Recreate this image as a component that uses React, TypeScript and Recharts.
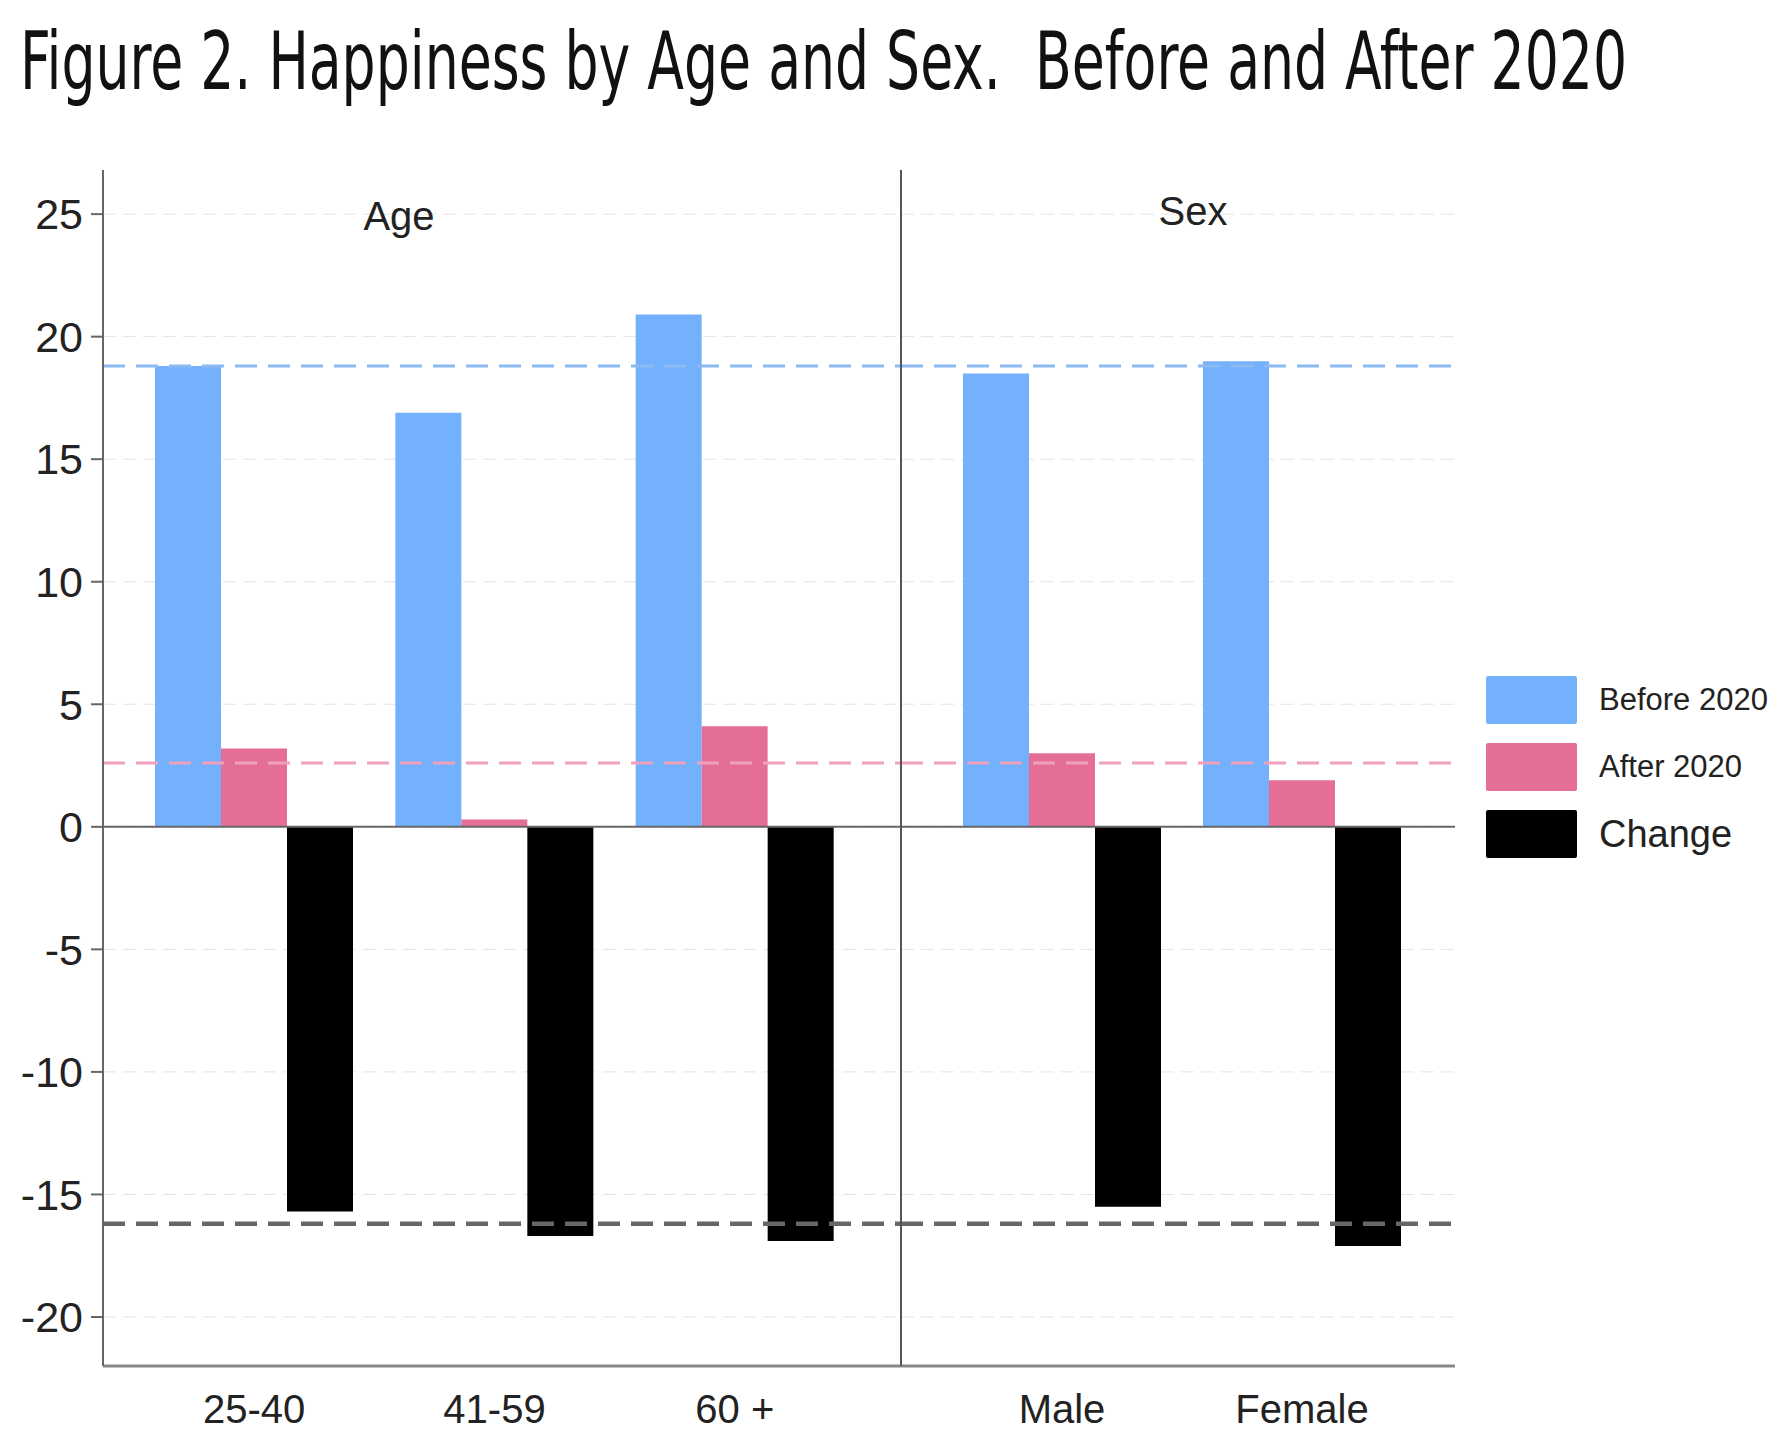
import React from "react";
import {
  BarChart,
  Bar,
  XAxis,
  YAxis,
  CartesianGrid,
  ReferenceLine,
} from "recharts";

// values
const ageGroups = ["25-40", "41-59", "60 +"];
const sexGroups = ["Male", "Female"];
const beforeAge = [18.8, 16.9, 20.9];
const afterAge = [3.2, 0.3, 4.1];
const changeAge = [-15.7, -16.7, -16.9];
const beforeSex = [18.5, 19.0];
const afterSex = [3.0, 1.9];
const changeSex = [-15.5, -17.1];
const meanBefore = 18.8;
const meanAfter = 2.6;
const meanChange = -16.2;
const yTicks = [-20, -15, -10, -5, 0, 5, 10, 15, 20, 25];
const yDomain = [-22, 26.8];

const BLUE = "#74b1fd";
const PINK = "#e56e98";
const BLACK = "#000000";
const FONT = "'Liberation Sans', Arial, sans-serif";

const series = [
  { key: "before", name: "Before 2020", color: BLUE, fontSize: 31 },
  { key: "after", name: "After 2020", color: PINK, fontSize: 31 },
  { key: "change", name: "Change", color: BLACK, fontSize: 38 },
];

const build = (cats: string[], b: number[], a: number[], c: number[]) =>
  cats.map((cat, i) => ({ cat, before: b[i], after: a[i], change: c[i] }));

const ageData = build(ageGroups, beforeAge, afterAge, changeAge);
const sexData = build(sexGroups, beforeSex, afterSex, changeSex);

const CHART_H = 1454;
const MARGIN = { top: 170, right: 0, bottom: 28, left: 0 };

const xTick = { fontSize: 40, fill: "#222", fontFamily: FONT };
const yTick = { fontSize: 43, fill: "#222", fontFamily: FONT };

const grid = () => (
  <CartesianGrid
    vertical={false}
    horizontalValues={yTicks}
    stroke="#e4e4e4"
    strokeDasharray="13 7"
  />
);

const refLines = () => [
  <ReferenceLine key="zero" y={0} stroke="#666" strokeWidth={2} />,
  <ReferenceLine key="mb" y={meanBefore} stroke="#8cbaf3" strokeWidth={3} strokeDasharray="22 11" />,
  <ReferenceLine key="ma" y={meanAfter} stroke="#efa0bd" strokeWidth={3} strokeDasharray="22 11" />,
  <ReferenceLine key="mc" y={meanChange} stroke="#666" strokeWidth={4.5} strokeDasharray="22 11" />,
];

const bars = () =>
  series.map((s) => (
    <Bar key={s.key} dataKey={s.key} fill={s.color} barSize={66} isAnimationActive={false} />
  ));

const xAxis = (padding: { left: number; right: number }) => (
  <XAxis
    dataKey="cat"
    padding={padding}
    tick={xTick}
    tickLine={false}
    tickMargin={23}
    axisLine={{ stroke: "#888", strokeWidth: 3 }}
    height={60}
  />
);

export default function App() {
  return (
    <div style={{ position: "absolute", left: 0, top: 0, width: 1782, height: 1454, background: "#fff", fontFamily: FONT }}>
      <svg width={1782} height={120} style={{ position: "absolute", left: 0, top: 0 }}>
        <text
          transform="translate(20,89) scale(1,1.33)"
          x={0}
          y={0}
          fontSize={60}
          fill="#111"
          fontFamily="'DejaVu Sans Condensed', 'Liberation Sans', sans-serif"
          textLength={1607}
          lengthAdjust="spacingAndGlyphs"
          style={{ whiteSpace: "pre" }}
        >
          Figure 2. Happiness by Age and Sex.  Before and After 2020
        </text>
      </svg>

      <div style={{ position: "absolute", left: 0, top: 0 }}>
        <BarChart width={901} height={CHART_H} data={ageData} margin={MARGIN} barGap={0}>
          {grid()}
          {xAxis({ left: 31, right: 46 })}
          <YAxis
            domain={yDomain}
            ticks={yTicks}
            allowDataOverflow
            width={103}
            tick={yTick}
            tickSize={12}
            tickMargin={8}
            tickLine={{ stroke: "#666", strokeWidth: 2 }}
            axisLine={{ stroke: "#666", strokeWidth: 2 }}
          />
          {bars()}
          {refLines()}
        </BarChart>
      </div>

      <div style={{ position: "absolute", left: 891, top: 0 }}>
        <BarChart width={564} height={CHART_H} data={sexData} margin={MARGIN} barGap={0}>
          {grid()}
          {xAxis({ left: 41, right: 33 })}
          <YAxis
            domain={yDomain}
            ticks={yTicks}
            allowDataOverflow
            width={10}
            tick={() => <g />}
            tickLine={false}
            axisLine={{ stroke: "#555", strokeWidth: 2 }}
          />
          {bars()}
          {refLines()}
        </BarChart>
      </div>

      <div style={{ position: "absolute", left: 399, top: 216, transform: "translate(-50%, -50%)", fontSize: 40, color: "#222" }}>
        Age
      </div>
      <div style={{ position: "absolute", left: 1193, top: 211, transform: "translate(-50%, -50%)", fontSize: 40, color: "#222" }}>
        Sex
      </div>

      {series.map((s, i) => (
        <div key={s.key} style={{ position: "absolute", left: 1486, top: 676 + i * 67, height: 48, display: "flex", alignItems: "center" }}>
          <div style={{ width: 91, height: 48, background: s.color, borderRadius: 2 }} />
          <span style={{ marginLeft: 22, fontSize: s.fontSize, color: "#222", whiteSpace: "nowrap" }}>{s.name}</span>
        </div>
      ))}
    </div>
  );
}
